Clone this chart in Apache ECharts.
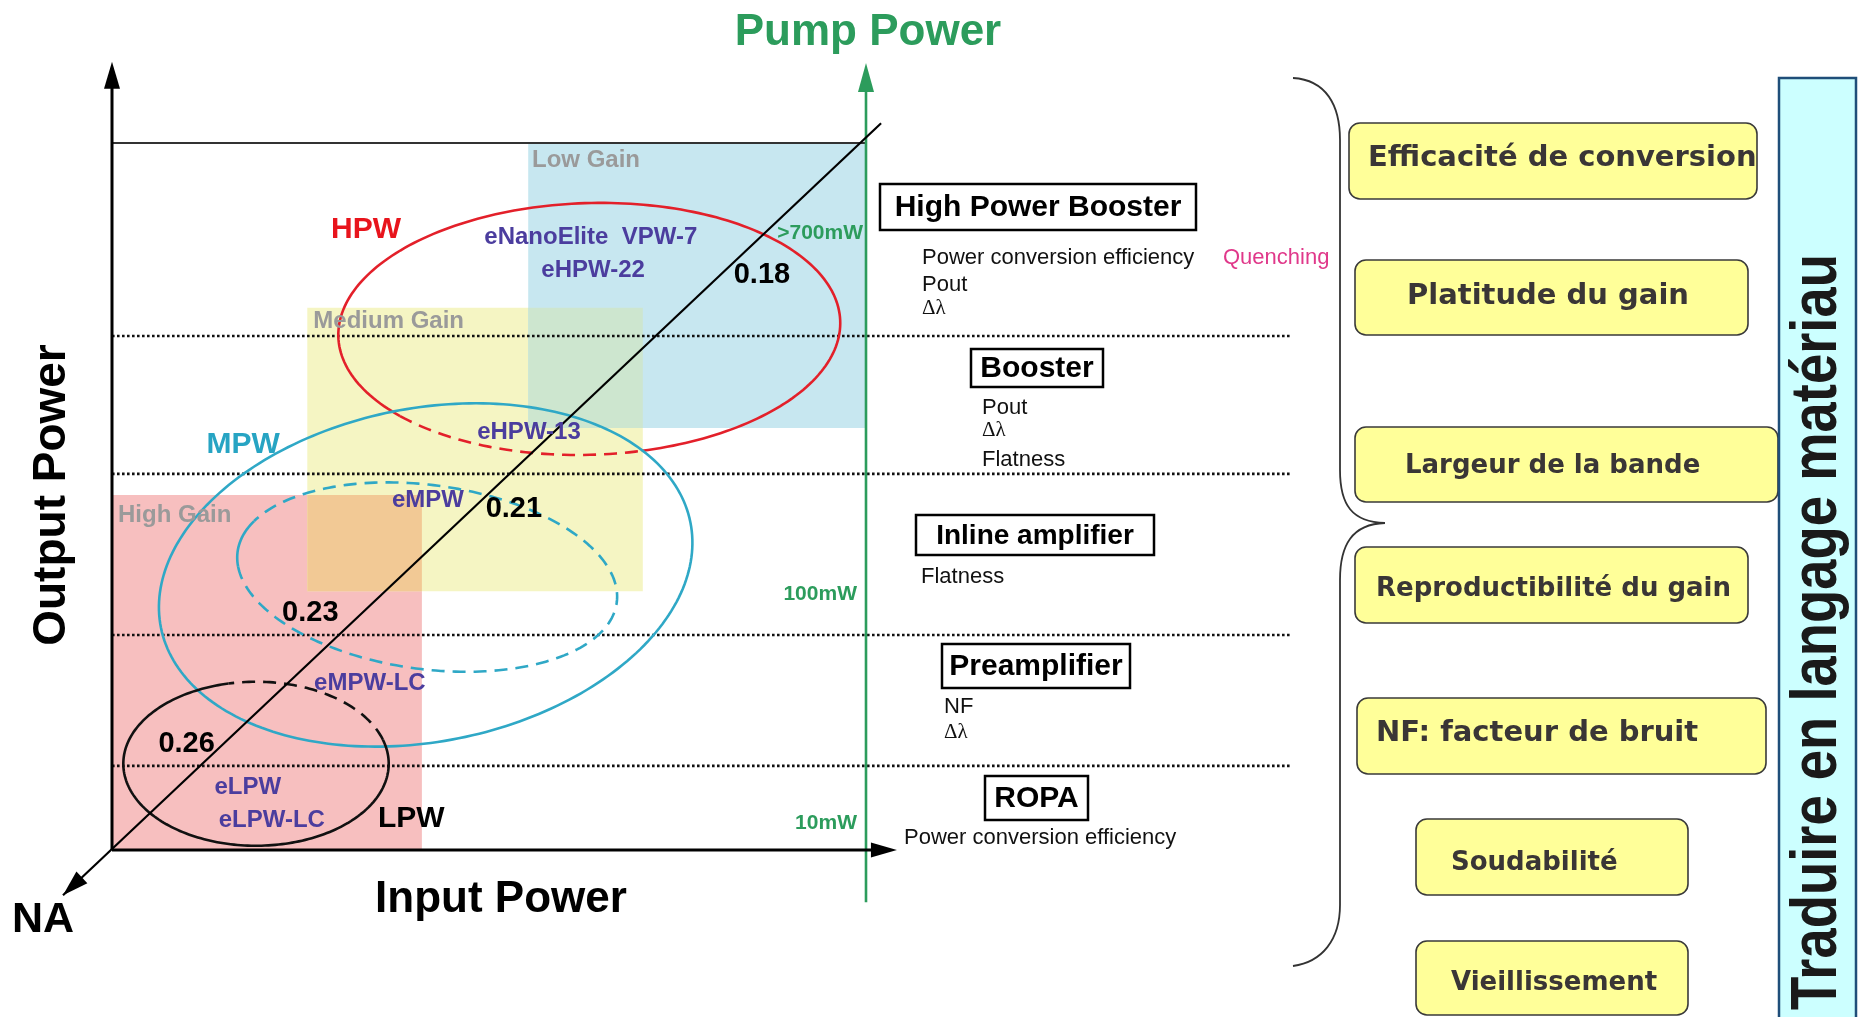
<!DOCTYPE html>
<html><head><meta charset="utf-8">
<script src="https://cdn.jsdelivr.net/npm/echarts@6/dist/echarts.min.js"></script>
<style>html,body{margin:0;padding:0;background:#fff}#c{width:1858px;height:1017px}</style>
</head><body><div id="c"></div>
<script>
// ================= DATA (diagram units: Input Power 0-100 across, Output Power 0-100 up) =================
const gainNames = ['High Gain', 'Medium Gain', 'Low Gain'];
const gainX0 = [0, 25.9, 55.2];
const gainX1 = [41.1, 70.4, 100];
const gainY0 = [0, 36.6, 59.7];
const gainY1 = [50.2, 76.7, 100];
const gainLabelX = [0.8, 26.7, 55.7];
const gainLabelY = [47.4, 74.7, 97.6];

const bandLevels = [11.9, 30.4, 53.2, 72.7];   // dotted output-power boundaries
const maxOutputLevel = 100;                      // solid top line

const fiberNames = ['LPW', 'MPW', 'HPW'];
const fiberLabelX = [39.7, 17.4, 33.7];
const fiberLabelY = [4.4, 57.3, 87.7];

// ellipses: HPW, MPW, eMPW (inner), LPW
const ellCX = [63.3, 41.6, 41.8, 19.1];
const ellCY = [73.7, 38.9, 38.6, 12.2];
const ellA = [33.3, 35.9, 25.4, 17.6];
const ellB = [17.8, 23.5, 13.0, 11.6];
const ellRot = [2, 13, -8.5, 0];
// arcs [fromDeg, toDeg, dashed]
const ellArcs = [
  [[220, 281, 1], [281, 580, 0]],
  [[0, 360, 0]],
  [[160, 190, 0], [190, 520, 1]],
  [[17, 102, 1], [102, 377, 0]]
];

const productNames = ['eLPW', 'eLPW-LC', 'eMPW-LC', 'eMPW', 'eHPW-13', 'eHPW-22', 'eNanoElite  VPW-7'];
const productX = [18.0, 21.2, 34.2, 41.9, 55.3, 63.8, 63.5];
const productY = [8.9, 4.2, 23.6, 49.5, 59.0, 82.0, 86.7];

const naValues = ['0.26', '0.23', '0.21', '0.18'];
const naX = [9.9, 26.3, 53.3, 86.2];
const naY = [15.0, 33.5, 48.2, 81.3];

const pumpLabels = ['10mW', '100mW', '>700mW'];
const pumpLabelX = [98.8, 98.8, 99.6];
const pumpLabelY = [3.8, 36.2, 87.3];

const yAxisTop = 111.5;
const xAxisEnd = 104.1;
const pumpAxisX = 100;
const pumpAxisBottom = -7.4;
const pumpAxisTop = 111.3;
const naAxisFrom = [102, 102.8];
const naAxisTo = [-6.5, -6.4];
const bandLineEnd = 156.2;

const ampNames = ['High Power Booster', 'Booster', 'Inline amplifier', 'Preamplifier', 'ROPA'];
const ampProps = [
  ['Power conversion efficiency', 'Pout', 'Δλ'],
  ['Pout', 'Δλ', 'Flatness'],
  ['Flatness'],
  ['NF', 'Δλ'],
  ['Power conversion efficiency']
];
const quenchingLabel = 'Quenching';

const criteria = ['Efficacité de conversion', 'Platitude du gain', 'Largeur de la bande',
  'Reproductibilité du gain', 'NF: facteur de bruit', 'Soudabilité', 'Vieillissement'];
const sideTitle = 'Traduire en langage matériau';

const titles = { output: 'Output Power', input: 'Input Power', na: 'NA', pump: 'Pump Power' };

// ================= STYLES / LAYOUT =================
const SANS = '"Liberation Sans", Arial, Helvetica, sans-serif';
const GREEN = '#2c9c5c';
const gainColors = ['#f7bfbf', '#f5f5c3', '#c7e7f0'];
const overlapColors = { '0-1': '#f2c995', '1-2': '#cde6cf' };
const ellColors = ['#e3202a', '#2fa8c6', '#2fa8c6', '#111'];
const fiberColors = ['#000', '#27a4c3', '#e8141c'];
const productColor = '#4b3d9e';

// right panel layout (pixels)
const ampBoxes = [[880, 184, 316, 46], [971, 349, 132, 38], [916, 515, 238, 40], [942, 644, 188, 44], [985, 776, 103, 44]];
const ampFont = [30, 30, 28, 30, 30];
const ampPropPos = [[[922, 258], [922, 285], [922, 308]], [[982, 408], [982, 430], [982, 460]], [[921, 577]], [[944, 707], [944, 732]], [[904, 838]]];
const quenchPos = [1223, 258];
const critBoxes = [[1349, 123, 408, 76], [1355, 260, 393, 75], [1355, 427, 423, 75], [1355, 547, 393, 76], [1357, 698, 409, 76], [1416, 819, 272, 76], [1416, 941, 272, 74]];
const critText = [[1368, 158, 29], [1407, 296, 29], [1405, 466, 26], [1376, 589, 26], [1376, 733, 29], [1451, 863, 26], [1451, 983, 26]];
// brace: [start, cp1, cp2, end] cubic pieces and straight pieces
const braceCurves = [
  [[1293, 78], [1326, 80], [1340, 105], [1340, 140]],
  [[1340, 470], [1340, 505], [1352, 522], [1385, 523]],
  [[1385, 523], [1352, 524], [1340, 545], [1340, 580]],
  [[1340, 905], [1340, 940], [1322, 962], [1293, 966]]
];
const braceLines = [[[1340, 140], [1340, 470]], [[1340, 580], [1340, 905]]];

// ================= BUILD =================
const regions = gainNames.map((n, i) => ({ x0: gainX0[i], x1: gainX1[i], y0: gainY0[i], y1: gainY1[i], color: gainColors[i] }));
for (let i = 0; i < gainNames.length; i++) {
  for (let j = i + 1; j < gainNames.length; j++) {
    const x0 = Math.max(gainX0[i], gainX0[j]), x1 = Math.min(gainX1[i], gainX1[j]);
    const y0 = Math.max(gainY0[i], gainY0[j]), y1 = Math.min(gainY1[i], gainY1[j]);
    if (x1 > x0 && y1 > y0) regions.push({ x0, x1, y0, y1, color: overlapColors[i + '-' + j] });
  }
}

const textItems = [];
gainNames.forEach((t, i) => textItems.push({ t, x: gainLabelX[i], y: gainLabelY[i], c: '#9a9a9a', f: 'bold 24px ' + SANS, a: 'left' }));
fiberNames.forEach((t, i) => textItems.push({ t, x: fiberLabelX[i], y: fiberLabelY[i], c: fiberColors[i], f: 'bold 30px ' + SANS, a: 'center' }));
productNames.forEach((t, i) => textItems.push({ t, x: productX[i], y: productY[i], c: productColor, f: 'bold 24px ' + SANS, a: 'center' }));
naValues.forEach((t, i) => textItems.push({ t, x: naX[i], y: naY[i], c: '#000', f: 'bold 29px ' + SANS, a: 'center' }));
pumpLabels.forEach((t, i) => textItems.push({ t, x: pumpLabelX[i], y: pumpLabelY[i], c: GREEN, f: 'bold 21px ' + SANS, a: 'right' }));

function arrowHead(tip, from, len, hw) {
  const dx = tip[0] - from[0], dy = tip[1] - from[1], L = Math.hypot(dx, dy);
  const ux = dx / L, uy = dy / L;
  const bx = tip[0] - ux * len, by = tip[1] - uy * len;
  return [tip, [bx - uy * hw, by + ux * hw], [bx + uy * hw, by - ux * hw]];
}

function ellPoints(api, i, t0, t1) {
  const pts = [];
  const r = ellRot[i] * Math.PI / 180, c = Math.cos(r), s = Math.sin(r);
  const n = Math.max(2, Math.ceil(Math.abs(t1 - t0) / 1.5));
  for (let k = 0; k <= n; k++) {
    const t = (t0 + (t1 - t0) * k / n) * Math.PI / 180;
    const ex = ellA[i] * Math.cos(t), ey = ellB[i] * Math.sin(t);
    pts.push(api.coord([ellCX[i] + ex * c - ey * s, ellCY[i] + ex * s + ey * c]));
  }
  return pts;
}

const graphics = [];
// axis titles
graphics.push({ type: 'text', x: 52, y: 495, rotation: Math.PI / 2, style: { text: titles.output, font: 'bold 46px ' + SANS, fill: '#000', align: 'center', verticalAlign: 'middle' } });
graphics.push({ type: 'text', x: 501, y: 900, style: { text: titles.input, font: 'bold 44px ' + SANS, fill: '#000', align: 'center', verticalAlign: 'middle' } });
graphics.push({ type: 'text', x: 43, y: 920, style: { text: titles.na, font: 'bold 43px ' + SANS, fill: '#000', align: 'center', verticalAlign: 'middle' } });
graphics.push({ type: 'text', x: 868, y: 33, style: { text: titles.pump, font: 'bold 44px ' + SANS, fill: GREEN, align: 'center', verticalAlign: 'middle' } });
// amplifier classes
ampNames.forEach((n, i) => {
  const b = ampBoxes[i];
  graphics.push({ type: 'rect', shape: { x: b[0], y: b[1], width: b[2], height: b[3] }, style: { fill: '#fff', stroke: '#000', lineWidth: 2.5 } });
  graphics.push({ type: 'text', x: b[0] + b[2] / 2, y: b[1] + b[3] / 2 + 1, style: { text: n, font: 'bold ' + ampFont[i] + 'px ' + SANS, fill: '#000', align: 'center', verticalAlign: 'middle' } });
  ampProps[i].forEach((p, k) => {
    const pos = ampPropPos[i][k];
    const serif = p === 'Δλ';
    graphics.push({ type: 'text', x: pos[0], y: pos[1], style: { text: p, font: (serif ? '21px "Liberation Serif", "DejaVu Serif", serif' : '22px ' + SANS), fill: '#111', align: 'left', verticalAlign: 'middle' } });
  });
});
graphics.push({ type: 'text', x: quenchPos[0], y: quenchPos[1], style: { text: quenchingLabel, font: '22px ' + SANS, fill: '#e0388a', align: 'left', verticalAlign: 'middle' } });
// brace
braceCurves.forEach(c => graphics.push({ type: 'bezierCurve', shape: { x1: c[0][0], y1: c[0][1], cpx1: c[1][0], cpy1: c[1][1], cpx2: c[2][0], cpy2: c[2][1], x2: c[3][0], y2: c[3][1] }, style: { fill: null, stroke: '#333', lineWidth: 1.8 } }));
braceLines.forEach(l => graphics.push({ type: 'line', shape: { x1: l[0][0], y1: l[0][1], x2: l[1][0], y2: l[1][1] }, style: { stroke: '#333', lineWidth: 1.8 } }));
// criteria boxes
criteria.forEach((c, i) => {
  const b = critBoxes[i], t = critText[i];
  graphics.push({ type: 'rect', shape: { x: b[0], y: b[1], width: b[2], height: b[3], r: 11 }, style: { fill: '#ffff99', stroke: '#3a3a3a', lineWidth: 1.6 } });
  graphics.push({ type: 'text', x: t[0], y: t[1], style: { text: c, font: 'bold ' + t[2] + 'px "DejaVu Sans", Verdana, sans-serif', fill: '#3a3636', align: 'left', verticalAlign: 'middle' } });
});
// side title (condensed bold, reading bottom to top)
graphics.push({ type: 'rect', shape: { x: 1779, y: 78, width: 77, height: 960 }, style: { fill: '#ccffff', stroke: '#1f4e79', lineWidth: 2.5 } });
graphics.push({ type: 'text', x: 1818, y: 632, rotation: Math.PI / 2, scaleX: 0.85, style: { text: sideTitle, font: 'bold 64px ' + SANS, fill: '#1a1a1a', align: 'center', verticalAlign: 'middle' } });

const option = {
  animation: false,
  backgroundColor: '#fff',
  grid: { left: 112, top: 143, width: 754, height: 707, outerBoundsMode: 'none', containLabel: false },
  xAxis: { type: 'value', min: 0, max: 100, show: false },
  yAxis: { type: 'value', min: 0, max: 100, show: false },
  graphic: graphics,
  series: [
    { // gain regions
      type: 'custom', z: 1, silent: true,
      data: regions.map(r => [r.x0, r.y0]),
      renderItem: (params, api) => {
        const r = regions[params.dataIndex];
        const p0 = api.coord([r.x0, r.y1]), p1 = api.coord([r.x1, r.y0]);
        return { type: 'rect', shape: { x: p0[0], y: p0[1], width: p1[0] - p0[0], height: p1[1] - p0[1] }, style: { fill: r.color } };
      }
    },
    { // dotted band lines
      type: 'custom', z: 2, silent: true,
      data: bandLevels.map(v => [0, v]),
      renderItem: (params, api) => {
        const v = bandLevels[params.dataIndex];
        const a = api.coord([0, v]), b = api.coord([bandLineEnd, v]);
        return { type: 'line', shape: { x1: a[0], y1: a[1], x2: b[0], y2: b[1] }, style: { stroke: '#111', lineWidth: 2.6, lineDash: [2.6, 2.4] } };
      }
    },
    { // ellipses
      type: 'custom', z: 3, silent: true,
      data: ellCX.map((v, i) => [ellCX[i], ellCY[i]]),
      renderItem: (params, api) => {
        const i = params.dataIndex;
        const children = ellArcs[i].map(seg => {
          const st = { fill: null, stroke: ellColors[i], lineWidth: 2.6 };
          if (seg[2]) st.lineDash = [13, 8];
          return { type: 'polyline', shape: { points: ellPoints(api, i, seg[0], seg[1]) }, style: st };
        });
        return { type: 'group', children };
      }
    },
    { // axes
      type: 'custom', z: 4, silent: true,
      data: [[0, 0]],
      renderItem: (params, api) => {
        const o = api.coord([0, 0]);
        const yt = api.coord([0, yAxisTop]);
        const xe = api.coord([xAxisEnd, 0]);
        const tl0 = api.coord([0, maxOutputLevel]), tl1 = api.coord([pumpAxisX, maxOutputLevel]);
        const pb = api.coord([pumpAxisX, pumpAxisBottom]), pt = api.coord([pumpAxisX, pumpAxisTop]);
        const nf = api.coord(naAxisFrom), nt = api.coord(naAxisTo);
        const ln = (a, b, c, w) => ({ type: 'line', shape: { x1: a[0], y1: a[1], x2: b[0], y2: b[1] }, style: { stroke: c, lineWidth: w } });
        const ar = (tip, from, c, len, hw) => ({ type: 'polygon', shape: { points: arrowHead(tip, from, len, hw) }, style: { fill: c } });
        return { type: 'group', children: [
          ln(tl0, tl1, '#333', 2.2),
          ln(pb, [pt[0], pt[1] + 20], GREEN, 2.6), ar(pt, pb, GREEN, 29, 8),
          ln(nf, nt, '#000', 2.2), ar(nt, nf, '#000', 26, 8),
          ln(o, [yt[0], yt[1] + 20], '#000', 3), ar(yt, o, '#000', 27, 8),
          ln(o, [xe[0] - 20, xe[1]], '#000', 3), ar(xe, o, '#000', 26, 7.5)
        ] };
      }
    },
    { // text labels
      type: 'custom', z: 5, silent: true,
      data: textItems.map(t => [t.x, t.y]),
      renderItem: (params, api) => {
        const it = textItems[params.dataIndex];
        const p = api.coord([it.x, it.y]);
        return { type: 'text', x: p[0], y: p[1], style: { text: it.t, fill: it.c, font: it.f, align: it.a, verticalAlign: 'middle' } };
      }
    }
  ]
};
const chart = echarts.init(document.getElementById('c'));
chart.setOption(option);
</script>
</body></html>
